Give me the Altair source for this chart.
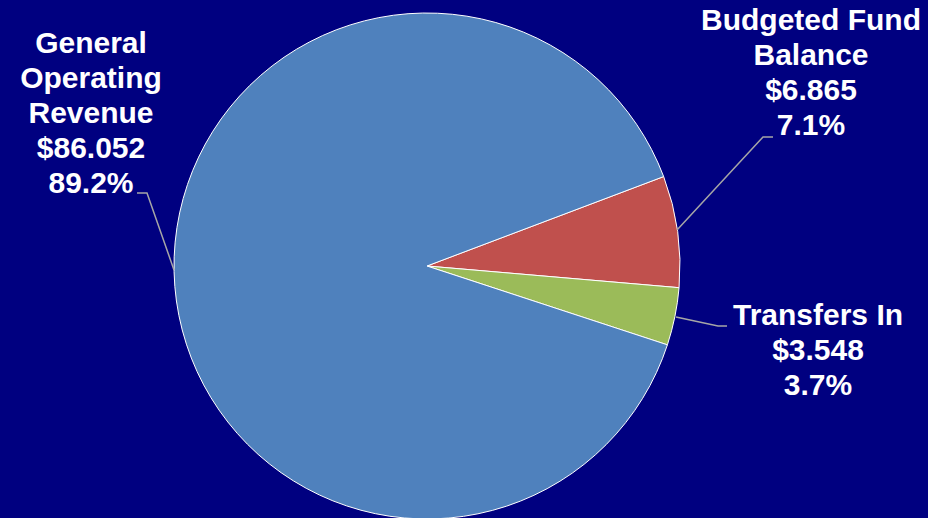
import math
import altair as alt
import pandas as pd

categories = ["Budgeted Fund Balance", "Transfers In", "General Operating Revenue"]
values = [6.865, 3.548, 86.052]
colors = ["#C0504D", "#9BBB59", "#4F81BD"]
name_lines = [["Budgeted Fund", "Balance"], ["Transfers In"], ["General", "Operating", "Revenue"]]

total = sum(values)
pie_df = pd.DataFrame({"category": categories, "value": values, "order": [0, 1, 2]})

label_rows = []
for cat, v, nl in zip(categories, values, name_lines):
    label_rows.append({"category": cat,
                       "text": nl + [f"${v:.3f}", f"{v / total * 100:.1f}%"]})
label_df = pd.DataFrame(label_rows)
# label anchor positions (pixels)
label_df["lx"] = [811, 818, 91]
label_df["ly"] = [30, 325, 53]

leader_df = pd.DataFrame({
    "category": ["Budgeted Fund Balance"] * 3 + ["Transfers In"] * 3 + ["General Operating Revenue"] * 3,
    "i": [0, 1, 2] * 3,
    "px": [773, 763, 677, 727, 718, 676, 137, 147, 174],
    "py": [137, 137, 230, 326, 326, 317, 193, 193, 270],
})

start = math.radians(69.3)

pie = alt.Chart(pie_df).mark_arc(radius=253, stroke="white", strokeWidth=1).encode(
    theta=alt.Theta("value:Q", stack=True, scale=alt.Scale(range=[start, start + 2 * math.pi])),
    color=alt.Color("category:N", scale=alt.Scale(domain=categories, range=colors), legend=None),
    order=alt.Order("order:Q"),
    x=alt.value(427),
    y=alt.value(266),
)

leaders = alt.Chart(leader_df).mark_line(color="#A6A6A6", strokeWidth=1.5).encode(
    x=alt.X("px:Q", scale=None, axis=None),
    y=alt.Y("py:Q", scale=None, axis=None),
    detail="category:N",
    order="i:Q",
)

labels = alt.Chart(label_df).mark_text(
    font="Liberation Sans", fontWeight="bold", fontSize=30, color="white",
    align="center", baseline="alphabetic", lineHeight=35,
).encode(
    x=alt.X("lx:Q", scale=None, axis=None),
    y=alt.Y("ly:Q", scale=None, axis=None),
    text="text",
)

chart = alt.layer(pie, leaders, labels).properties(
    width=928, height=518, background="#000080", padding=0,
    autosize=alt.AutoSizeParams(type="none"),
).configure_view(stroke=None)

chart.save("out.html", embed_options={"renderer": "svg", "actions": False})
